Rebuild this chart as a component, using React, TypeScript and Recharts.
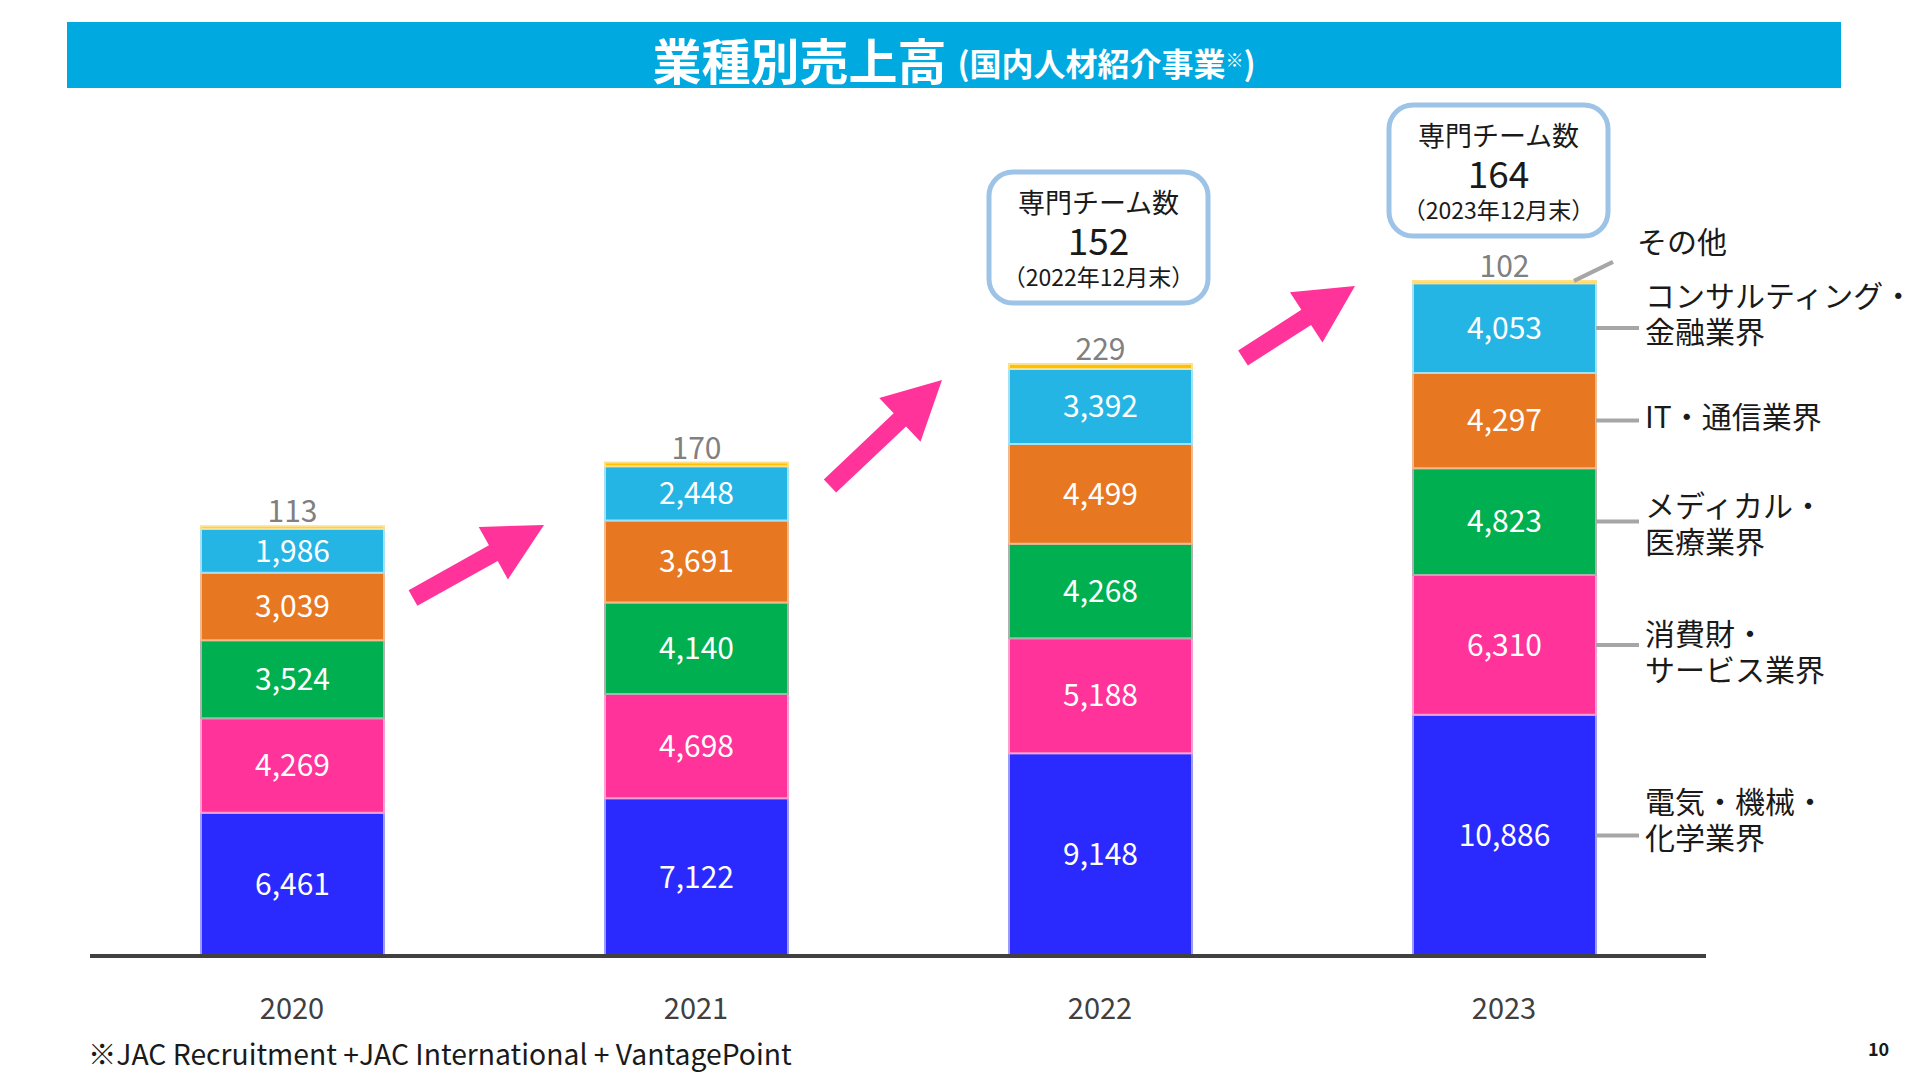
import React from "react";
import { BarChart, Bar, XAxis, YAxis, LabelList } from "recharts";

const YEARS = ["2020", "2021", "2022", "2023"];
const DENKI = [6461, 7122, 9148, 10886];
const SHOHI = [4269, 4698, 5188, 6310];
const MEDICAL = [3524, 4140, 4268, 4823];
const IT = [3039, 3691, 4499, 4297];
const CONSUL = [1986, 2448, 3392, 4053];
const OTHER = [113, 170, 229, 102];

const SERIES_KEYS = ["denki", "shohi", "medical", "it", "consul", "other"];
const SERIES_VALUES = [DENKI, SHOHI, MEDICAL, IT, CONSUL, OTHER];
const SERIES_LABELS = [
  ["電気・機械・", "化学業界"],
  ["消費財・", "サービス業界"],
  ["メディカル・", "医療業界"],
  ["IT・通信業界"],
  ["コンサルティング・", "金融業界"],
  ["その他"],
];

const TEAM_YEARS = ["2022", "2023"];
const TEAM_COUNTS = [152, 164];

const COLORS = ["#2A2AFF", "#FF3399", "#00B050", "#E87722", "#25B5E5", "#FFC000"];
const EDGES = ["#9b9bff", "#ff9fcf", "#b0b0b0", "#f2b98c", "#a6e0f4", "#ffe08a"];
// first-line offset of the right-hand labels vs. the leader line
const LABEL_DY = [-35, -13, -18, -6, -34, 0];

const FONT = '"Noto Sans CJK JP", "Noto Sans", sans-serif';

const data = YEARS.map((year, i) => {
  const row: any = { year };
  SERIES_KEYS.forEach((k, s) => (row[k] = SERIES_VALUES[s][i]));
  return row;
});

const fmt = (v: any) => Number(v).toLocaleString("en-US");

function rightLabel(s: number) {
  return (props: any) => {
    const { x, y, width, height, index } = props;
    if (index !== YEARS.length - 1) return null;
    const lines = SERIES_LABELS[s];
    const right = x + width;
    if (s === SERIES_KEYS.length - 1) {
      return (
        <g>
          <line x1={right - 22} y1={y} x2={right + 17} y2={y - 19} stroke="#a6a6a6" strokeWidth={4} />
          <text x={right + 41} y={y - 41} fontSize={30} fill="#1a1a1a" dominantBaseline="central">
            {lines[0]}
          </text>
        </g>
      );
    }
    const cy = y + height / 2;
    return (
      <g>
        <line x1={right} y1={cy} x2={right + 43} y2={cy} stroke="#a6a6a6" strokeWidth={4} />
        {lines.map((t, j) => (
          <text key={j} x={right + 49} y={cy + LABEL_DY[s] + j * 36} fontSize={30} fill="#1a1a1a" dominantBaseline="central">
            {t}
          </text>
        ))}
      </g>
    );
  };
}

function arrowPath(x1: number, y1: number, x2: number, y2: number) {
  const shaft = 18, headW = 60, headL = 58;
  const len = Math.hypot(x2 - x1, y2 - y1);
  const ux = (x2 - x1) / len, uy = (y2 - y1) / len;
  const nx = -uy, ny = ux;
  const bx = x2 - ux * headL, by = y2 - uy * headL;
  const p = [
    [x1 + nx * shaft / 2, y1 + ny * shaft / 2],
    [bx + nx * shaft / 2, by + ny * shaft / 2],
    [bx + nx * headW / 2, by + ny * headW / 2],
    [x2, y2],
    [bx - nx * headW / 2, by - ny * headW / 2],
    [bx - nx * shaft / 2, by - ny * shaft / 2],
    [x1 - nx * shaft / 2, y1 - ny * shaft / 2],
  ];
  return "M" + p.map((q) => q.join(",")).join("L") + "Z";
}

function Callout({ x, y, count, year }: { x: number; y: number; count: number; year: string }) {
  const w = 219, h = 131;
  return (
    <g>
      <rect x={x} y={y} width={w} height={h} rx={24} fill="#fff" stroke="#9DC3E6" strokeWidth={5} />
      <text x={x + w / 2} y={y + 29} textAnchor="middle" dominantBaseline="central" fontSize={27} fill="#1a1a1a">
        専門チーム数
      </text>
      <text x={x + w / 2} y={y + 67} textAnchor="middle" dominantBaseline="central" fontSize={37} fill="#1a1a1a">
        {count}
      </text>
      <text x={x + w / 2} y={y + 104} textAnchor="middle" dominantBaseline="central" fontSize={23} fill="#1a1a1a">
        {`（${year}年12月末）`}
      </text>
    </g>
  );
}

export default function App() {
  return (
    <div style={{ position: "absolute", left: 0, top: 0, width: 1914, height: 1080, background: "#fff", fontFamily: FONT }}>
      <div
        style={{
          position: "absolute", left: 67, top: 22, width: 1774, height: 66, background: "#00A9E0",
          display: "flex", alignItems: "center", justifyContent: "center", color: "#fff", fontWeight: 700,
        }}
      >
        <span style={{ fontSize: 49, marginTop: 6 }}>業種別売上高</span>
        <span style={{ fontSize: 32, marginLeft: 11, marginTop: 14 }}>
          (国内人材紹介事業<span style={{ fontSize: 18, verticalAlign: "9px", fontWeight: 400 }}>※</span>)
        </span>
      </div>

      <div style={{ position: "absolute", left: 0, top: 0 }}>
        <BarChart width={1914} height={1080} data={data} margin={{ top: 247, right: 208, bottom: 64, left: 90 }}>
          <YAxis hide domain={[0, 32000]} />
          <XAxis
            dataKey="year"
            height={60}
            tickLine={false}
            axisLine={{ stroke: "#404040", strokeWidth: 4 }}
            tick={{ fill: "#404040", fontSize: 29 }}
            tickMargin={36}
          />
          {SERIES_KEYS.map((k, s) => (
            <Bar
              key={k}
              dataKey={k}
              stackId="a"
              fill={COLORS[s]}
              stroke={EDGES[s]}
              strokeWidth={2}
              barSize={183}
              isAnimationActive={false}
            >
              {s < SERIES_KEYS.length - 1 ? (
                <LabelList dataKey={k} position="center" fill="#fff" fontSize={30} formatter={fmt} />
              ) : (
                <LabelList dataKey={k} position="top" offset={4} fill="#808080" fontSize={30} formatter={fmt} />
              )}
              <LabelList dataKey={k} content={rightLabel(s)} />
            </Bar>
          ))}
        </BarChart>
      </div>

      <svg width={1914} height={1080} style={{ position: "absolute", left: 0, top: 0, pointerEvents: "none" }}>
        <path d={arrowPath(413, 598, 544, 525)} fill="#FF3399" />
        <path d={arrowPath(830, 486, 942, 380)} fill="#FF3399" />
        <path d={arrowPath(1243, 358, 1355, 286)} fill="#FF3399" />
        <Callout x={989} y={172} count={TEAM_COUNTS[0]} year={TEAM_YEARS[0]} />
        <Callout x={1389} y={105} count={TEAM_COUNTS[1]} year={TEAM_YEARS[1]} />
      </svg>

      <div style={{ position: "absolute", left: 88, top: 1034, fontSize: 28.3, color: "#1a1a1a", whiteSpace: "nowrap", lineHeight: "38px" }}>
        ※JAC Recruitment +JAC International + VantagePoint
      </div>
      <div style={{ position: "absolute", left: 1868, top: 1035, fontSize: 18, fontWeight: 700, color: "#1a1a1a" }}>10</div>
    </div>
  );
}
